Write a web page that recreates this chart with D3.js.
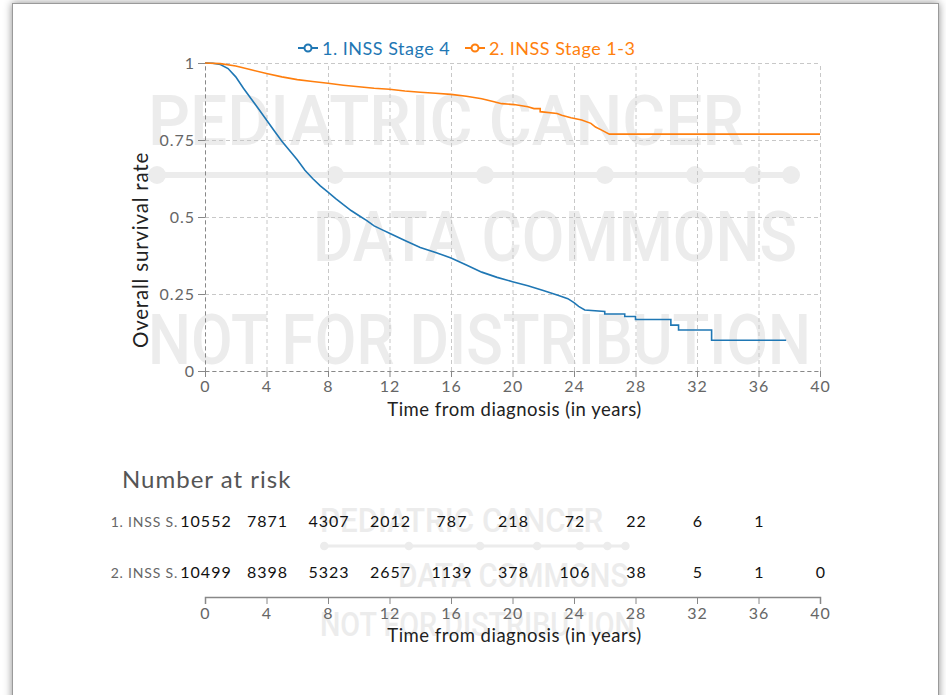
<!DOCTYPE html>
<html><head>
<meta charset="utf-8">
<script src="https://d3js.org/d3.v7.min.js"></script>
<style>
  body { margin: 0; background: #fff; font-family: Lato, "Open Sans", sans-serif; }
  .card {
    position: absolute; left: 12px; top: 3px; width: 925px; height: 720px;
    border: 1px solid #9a9a9a; box-shadow: 0 0 8px rgba(0,0,0,0.45); background: #fff;
  }
  svg { position: absolute; left: 0; top: 0; }
  .grid line { stroke: #c8c8c8; stroke-dasharray: 4,3; }
  .grid .domain { stroke: none; }
  .axis text { fill: #666; font-size: 16px; letter-spacing: 1px; font-family: Lato, sans-serif; }
  .axis line { stroke: #888; }
  .dashed .domain { stroke: #888; stroke-dasharray: 4,3; }
</style>
</head>
<body>
<div class="card"></div>
<svg id="km" width="946" height="695"></svg>
<script>

// ---- data ----
const seriesNames = ["1. INSS Stage 4", "2. INSS Stage 1-3"];
const seriesColors = ["#1f77b4", "#ff7f0e"];

// [years, survival]; repeated times are the visible steps
const stage4 = [[0,1],[0.5,0.999],[1,0.995],[1.5,0.982],[2,0.955],[2.5,0.918],[3,0.884],[3.5,0.85],
  [4,0.815],[4.5,0.78],[5,0.746],[5.5,0.716],[6,0.686],[6.5,0.652],[7,0.625],[7.5,0.601],[8,0.581],
  [8.5,0.56],[9,0.54],[9.5,0.521],[10,0.505],[10.5,0.489],[11,0.471],[11.5,0.459],[12,0.447],
  [13,0.424],[14,0.401],[15,0.385],[16,0.367],[17,0.344],[18,0.321],[19,0.304],[20,0.29],
  [21,0.277],[22,0.261],[23,0.245],[23.6,0.235],[24,0.222],[24.3,0.21],[24.7,0.198],
  [26,0.193],[26,0.185],[27.3,0.185],[27.3,0.177],[28,0.177],[28,0.167],[30.3,0.167],
  [30.3,0.149],[30.8,0.149],[30.8,0.133],[32.95,0.133],[32.95,0.1],[37.8,0.1]];

const stage13 = [[0,1],[1,0.998],[2,0.99],[3,0.978],[4,0.966],[5,0.955],[6,0.946],[7,0.94],
  [8,0.934],[9,0.928],[10,0.923],[11,0.918],[12,0.915],[13,0.909],[14,0.905],[15,0.902],
  [16,0.898],[17,0.892],[17.5,0.888],[18,0.884],[18.8,0.874],[19.3,0.868],[20.1,0.865],
  [21,0.858],[21.4,0.852],[21.8,0.852],[21.8,0.842],[22.9,0.836],[23.2,0.83],[23.8,0.822],
  [24.5,0.815],[25.1,0.804],[25.4,0.792],[25.8,0.782],[26.3,0.769],[40,0.769]];

const timeTicks = [0,4,8,12,16,20,24,28,32,36,40];
const survTicks = [0,0.25,0.5,0.75,1];
const riskLabels = ["1. INSS S.", "2. INSS S."];
const riskStage4 = [10552,7871,4307,2012,787,218,72,22,6,1];
const riskStage13 = [10499,8398,5323,2657,1139,378,106,38,5,1,0];

// ---- layout ----
const svg = d3.select("svg#km");
const plot = {left: 205, right: 820, top: 63, bottom: 371};

const x = d3.scaleLinear().domain([0, 40]).range([plot.left, plot.right]);
const y = d3.scaleLinear().domain([0, 1]).range([plot.bottom, plot.top]);

// watermark, drawn in main-chart coordinates, reused small for the table
function watermark(g) {
  const col = "#ececec";
  const t = (txt, xx, yy, len) => g.append("text")
      .attr("x", xx).attr("y", yy)
      .attr("textLength", len).attr("lengthAdjust", "spacingAndGlyphs")
      .style("font-family", "Roboto, sans-serif").style("font-weight", 500)
      .style("font-size", "70px").style("fill", col)
      .text(txt);
  t("PEDIATRIC CANCER", 148, 145, 596);
  g.append("line").attr("x1", 157).attr("x2", 791).attr("y1", 175).attr("y2", 175)
    .attr("stroke", col).attr("stroke-width", 6);
  [157,335,485,605,695,753,791].forEach(cx => {
    g.append("circle").attr("cx", cx).attr("cy", 175).attr("r", 9).attr("fill", col);
  });
  t("DATA COMMONS", 313, 261, 484);
  t("NOT FOR DISTRIBUTION", 148, 364, 663);
}
watermark(svg.append("g").attr("id", "wm1"));
watermark(svg.append("g").attr("id", "wm2")
  .attr("transform", "translate(" + (320 - 148*0.475) + "," + (508 - 95*0.475) + ") scale(0.475)"));

// gridlines
svg.append("g").attr("class", "grid")
  .attr("transform", "translate(0," + plot.bottom + ")")
  .call(d3.axisBottom(x).tickValues(timeTicks).tickSize(-(plot.bottom - plot.top)).tickFormat(""));
svg.append("g").attr("class", "grid")
  .attr("transform", "translate(" + plot.left + ",0)")
  .call(d3.axisLeft(y).tickValues(survTicks).tickSize(-(plot.right - plot.left)).tickFormat(""));

// axes
svg.append("g").attr("class", "axis dashed")
  .attr("transform", "translate(0," + plot.bottom + ")")
  .call(d3.axisBottom(x).tickValues(timeTicks).tickSize(6).tickSizeOuter(0).tickPadding(3))
  .selectAll("text").attr("dy", "0.75em");
svg.append("g").attr("class", "axis dashed")
  .attr("transform", "translate(" + plot.left + ",0)")
  .call(d3.axisLeft(y).tickValues(survTicks).tickSize(7).tickSizeOuter(0).tickPadding(3)
    .tickFormat(d => d3.format("")(d)));

svg.append("text").attr("x", (plot.left + plot.right) / 2 + 2).attr("y", 416)
  .attr("text-anchor", "middle").style("font-size", "18.5px").style("letter-spacing", "0.5px")
  .style("fill", "#222").text("Time from diagnosis (in years)");
svg.append("text").attr("transform", "translate(148,250) rotate(-90)")
  .attr("text-anchor", "middle").style("font-size", "20.5px").style("letter-spacing", "0.8px")
  .style("fill", "#222").text("Overall survival rate");

// curves
const line = d3.line().x(d => x(d[0])).y(d => y(d[1]));
[stage4, stage13].forEach((s, i) => {
  svg.append("path").datum(s)
    .attr("d", line)
    .attr("fill", "none")
    .attr("stroke", seriesColors[i])
    .attr("stroke-width", 1.6);
});

// legend
const legendX = [298, 465];
seriesNames.forEach((name, i) => {
  const lg = svg.append("g").attr("transform", "translate(" + legendX[i] + ",48)");
  lg.append("line").attr("x1", 0).attr("x2", 20).attr("y1", 0).attr("y2", 0)
    .attr("stroke", seriesColors[i]).attr("stroke-width", 2);
  lg.append("circle").attr("cx", 10).attr("cy", 0).attr("r", 3.5)
    .attr("fill", "#fff").attr("stroke", seriesColors[i]).attr("stroke-width", 2);
  lg.append("text").attr("x", 24).attr("y", 6.5)
    .style("font-size", "18px").style("letter-spacing", "0.5px")
    .style("fill", seriesColors[i]).text(name);
});

// number at risk table
svg.append("text").attr("x", 122).attr("y", 488)
  .style("font-size", "24px").style("letter-spacing", "1px")
  .style("fill", "#555").text("Number at risk");

const rowY = [527, 578];
[riskStage4, riskStage13].forEach((row, i) => {
  svg.append("text").attr("x", 178).attr("y", rowY[i]).attr("text-anchor", "end")
    .style("font-size", "14px").style("letter-spacing", "0.8px")
    .style("fill", "#666").text(riskLabels[i]);
  row.forEach((n, j) => {
    svg.append("text").attr("x", x(timeTicks[j]) + 1).attr("y", rowY[i])
      .attr("text-anchor", "middle").style("font-size", "16px").style("letter-spacing", "1px")
      .style("fill", "#111").text(n);
  });
});

svg.append("g").attr("class", "axis")
  .attr("transform", "translate(0,597)")
  .call(d3.axisBottom(x).tickValues(timeTicks).tickSize(7).tickSizeOuter(7).tickPadding(3))
  .call(g => g.select(".domain").attr("stroke", "#888").attr("stroke-width", 1.5))
  .selectAll("text").attr("dy", "0.75em");
svg.append("text").attr("x", (plot.left + plot.right) / 2 + 2).attr("y", 642)
  .attr("text-anchor", "middle").style("font-size", "18.5px").style("letter-spacing", "0.5px")
  .style("fill", "#222").text("Time from diagnosis (in years)");

</script>
</body>
</html>
